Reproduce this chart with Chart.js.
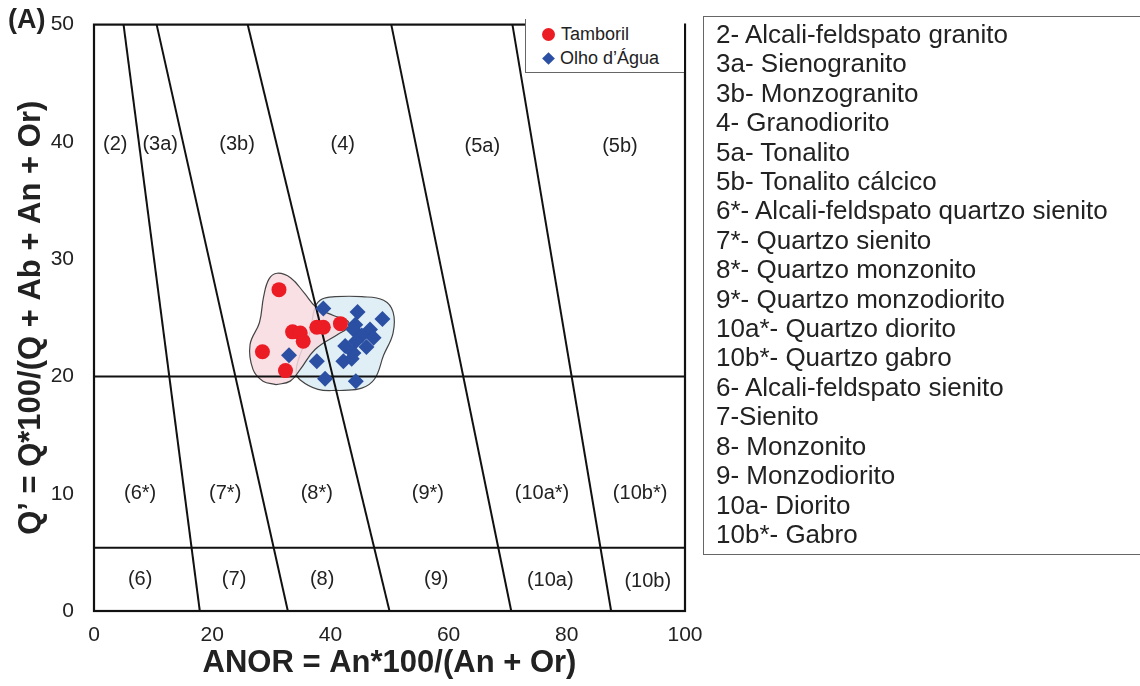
<!DOCTYPE html>
<html>
<head>
<meta charset="utf-8">
<script src="https://cdn.jsdelivr.net/npm/chart.js@4.4.0/dist/chart.umd.min.js"></script>
<style>
  body { margin: 0; background: #fff; font-family: "Liberation Sans", Arial, sans-serif; color: #222; }
  #wrap { position: relative; width: 1140px; height: 686px; overflow: hidden; }
  #chartBox { position: absolute; left: 0; top: 0; width: 720px; height: 686px; }
  #panel { position: absolute; left: 8px; top: 4px; font-weight: bold; font-size: 27px; }
  #key { position: absolute; left: 525px; top: 19px; width: 158px; height: 53px;
         border-left: 1.5px solid #666; border-bottom: 1.5px solid #666; background: #fff; font-size: 18px; }
  #key div { position: absolute; left: 16px; height: 22px; line-height: 22px; }
  .dot { display: inline-block; width: 13px; height: 13px; border-radius: 50%; background: #ec1c24; margin-right: 6px; vertical-align: -1px; }
  .dia { display: inline-block; width: 9px; height: 9px; background: #2b4fa2; transform: rotate(45deg); margin: 0 7px 0 2px; vertical-align: 1px; }
  #names { position: absolute; left: 703px; top: 16px; width: 460px; height: 539px;
           border: 1.5px solid #666; padding: 3px 0 0 12px; box-sizing: border-box;
           font-size: 26px; line-height: 29.4px; }
</style>
</head>
<body>
<div id="wrap">
  <div id="chartBox"><canvas id="qanorChart"></canvas></div>
  <div id="panel">(A)</div>
  <div id="key">
    <div style="top:4px"><span class="dot"></span>Tamboril</div>
    <div style="top:28px"><span class="dia"></span>Olho d’Água</div>
  </div>
  <div id="names"></div>
</div>
<script>
// Q' x ANOR data
const tamborilAnor = [31.3, 28.5, 32.4, 33.6, 34.9, 35.4, 37.7, 38.8, 41.7];
const tamborilQ = [27.4, 22.1, 20.5, 23.8, 23.7, 23.0, 24.2, 24.2, 24.5];

const olhoAnor = [38.8, 44.6, 48.8, 44.2, 43.9, 46.7, 45.3, 47.3, 44.3, 46.1, 42.5, 43.9, 42.2, 43.6, 33.0, 37.7, 39.1, 44.3];
const olhoQ = [25.8, 25.5, 24.9, 24.4, 24.0, 24.0, 23.5, 23.3, 23.0, 22.5, 22.6, 22.0, 21.3, 21.5, 21.8, 21.3, 19.8, 19.6];

// envelopes around each group (closed loops, starting at the bottom)
const tamborilHullAnor = [30.8, 28.6, 26.9, 26.4, 28.0, 28.7, 29.6, 31.0, 33.3, 35.6, 37.6, 40.5, 43.0, 42.8, 41.3, 37.4, 34.9, 33.2, 30.8];
const tamborilHullQ = [19.3, 19.6, 20.6, 22.7, 24.6, 26.8, 28.3, 28.8, 28.4, 27.1, 25.9, 25.2, 24.7, 24.1, 23.6, 22.3, 20.6, 19.6, 19.3];
const olhoHullAnor = [41.6, 37.9, 34.9, 34.2, 34.9, 36.5, 37.4, 38.6, 40.8, 45.3, 49.0, 50.6, 50.6, 49.0, 47.5, 45.3, 41.6];
const olhoHullQ = [18.8, 18.9, 19.7, 20.4, 21.9, 23.7, 25.9, 26.6, 26.8, 26.8, 26.5, 25.5, 23.7, 21.8, 19.8, 19.0, 18.8];

// field boundaries: ANOR where each line meets Q'=50 and Q'=0
const boundaryTopAnor = [5.0, 10.6, 26.0, 50.3, 70.8];
const boundaryBaseAnor = [17.9, 32.8, 50.0, 70.6, 87.5];
const qBoundaries = [20, 5.4];

// field labels (data units)
const fieldNames = ["(2)", "(3a)", "(3b)", "(4)", "(5a)", "(5b)",
  "(6*)", "(7*)", "(8*)", "(9*)", "(10a*)", "(10b*)",
  "(6)", "(7)", "(8)", "(9)", "(10a)", "(10b)"];
const fieldAnor = [3.6, 11.2, 24.2, 42.1, 65.7, 89.0,
  7.8, 22.2, 37.7, 56.5, 75.8, 92.4,
  7.8, 23.7, 38.6, 57.9, 77.2, 93.7];
const fieldQ = [39.8, 39.8, 39.8, 39.8, 39.6, 39.6,
  10.0, 10.0, 10.0, 10.0, 10.0, 10.0,
  2.7, 2.7, 2.7, 2.7, 2.6, 2.5];

const xTicks = [0, 20, 40, 60, 80, 100];
const yTicks = [0, 10, 20, 30, 40, 50];

const rockNames = [
  "2- Alcali-feldspato granito",
  "3a- Sienogranito",
  "3b- Monzogranito",
  "4- Granodiorito",
  "5a- Tonalito",
  "5b- Tonalito cálcico",
  "6*- Alcali-feldspato quartzo sienito",
  "7*- Quartzo sienito",
  "8*- Quartzo monzonito",
  "9*- Quartzo monzodiorito",
  "10a*- Quartzo diorito",
  "10b*- Quartzo gabro",
  "6- Alcali-feldspato sienito",
  "7-Sienito",
  "8- Monzonito",
  "9- Monzodiorito",
  "10a- Diorito",
  "10b*- Gabro"
];

document.addEventListener("DOMContentLoaded", function () {
  const names = document.getElementById("names");
  rockNames.forEach(function (n) {
    const d = document.createElement("div");
    d.textContent = n;
    names.appendChild(d);
  });

  const pairs = (xs, ys) => xs.map((v, i) => ({ x: v, y: ys[i] }));
  const FONT = '"Liberation Sans", Arial, sans-serif';
  Chart.defaults.font.family = FONT;

  const datasets = [
    {
      label: "Tamboril",
      data: pairs(tamborilAnor, tamborilQ),
      pointStyle: "circle",
      pointRadius: 7.5,
      backgroundColor: "#ec1c24",
      borderColor: "#ec1c24",
      borderWidth: 0,
      order: 0,
    },
    {
      label: "Olho d’Água",
      data: pairs(olhoAnor, olhoQ),
      pointStyle: "rectRot",
      pointRadius: 8,
      backgroundColor: "#2b4fa2",
      borderColor: "#2b4fa2",
      borderWidth: 0,
      order: 1,
    },
  ];

  // field boundary lines
  boundaryTopAnor.forEach(function (top, i) {
    datasets.push({
      data: [{ x: top, y: 50 }, { x: boundaryBaseAnor[i], y: 0 }],
      showLine: true, borderColor: "#111", borderWidth: 2, pointRadius: 0, order: 2,
    });
  });
  qBoundaries.forEach(function (q) {
    datasets.push({
      data: [{ x: 0, y: q }, { x: 100, y: q }],
      showLine: true, borderColor: "#111", borderWidth: 2, pointRadius: 0, order: 2,
    });
  });

  // envelopes
  datasets.push({
    data: pairs(tamborilHullAnor, tamborilHullQ),
    showLine: true, fill: "shape", tension: 0.4,
    backgroundColor: "rgba(247,219,224,0.85)", borderColor: "#444", borderWidth: 1.2,
    pointRadius: 0, order: 3,
  });
  datasets.push({
    data: pairs(olhoHullAnor, olhoHullQ),
    showLine: true, fill: "shape", tension: 0.4,
    backgroundColor: "rgba(222,238,244,0.95)", borderColor: "#444", borderWidth: 1.2,
    pointRadius: 0, order: 4,
  });

  const fieldText = {
    id: "fieldText",
    afterDatasetsDraw(chart) {
      const { ctx, chartArea: a } = chart;
      const x = chart.scales.x, y = chart.scales.y;
      ctx.save();
      ctx.font = "20px " + FONT;
      ctx.fillStyle = "#222";
      ctx.textAlign = "center";
      ctx.textBaseline = "middle";
      fieldNames.forEach(function (t, i) {
        ctx.fillText(t, x.getPixelForValue(fieldAnor[i]), y.getPixelForValue(fieldQ[i]));
      });
      ctx.lineWidth = 2.2;
      ctx.strokeStyle = "#111";
      ctx.strokeRect(a.left, a.top, a.right - a.left, a.bottom - a.top);
      ctx.restore();
    },
  };

  new Chart(document.getElementById("qanorChart"), {
    type: "scatter",
    data: { datasets: datasets },
    options: {
      responsive: true,
      maintainAspectRatio: false,
      animation: false,
      layout: { padding: { top: 19, right: 35, bottom: 0, left: 0 } },
      plugins: { legend: { display: false }, tooltip: { enabled: false } },
      scales: {
        x: {
          min: 0, max: 100,
          grid: { display: false }, border: { display: false },
          afterBuildTicks(s) { s.ticks = xTicks.map((v) => ({ value: v })); },
          afterFit(s) { s.height = 75; },
          ticks: { font: { size: 21 }, color: "#222", padding: 4 },
          title: {
            display: true, text: "ANOR = An*100/(An + Or)",
            font: { size: 31, weight: "bold" }, color: "#222",
            padding: { top: 0, bottom: 4 },
          },
        },
        y: {
          min: 0, max: 50,
          grid: { display: false }, border: { display: false },
          afterBuildTicks(s) { s.ticks = yTicks.map((v) => ({ value: v })); },
          afterFit(s) { s.width = 94; },
          ticks: { font: { size: 21 }, color: "#222", padding: 12 },
          title: {
            display: true, text: "Q’ = Q*100/(Q + Ab + An + Or)",
            font: { size: 31, weight: "bold" }, color: "#222",
            padding: { top: 13, bottom: 0 },
          },
        },
      },
    },
    plugins: [fieldText],
  });
});
</script>
</body>
</html>
